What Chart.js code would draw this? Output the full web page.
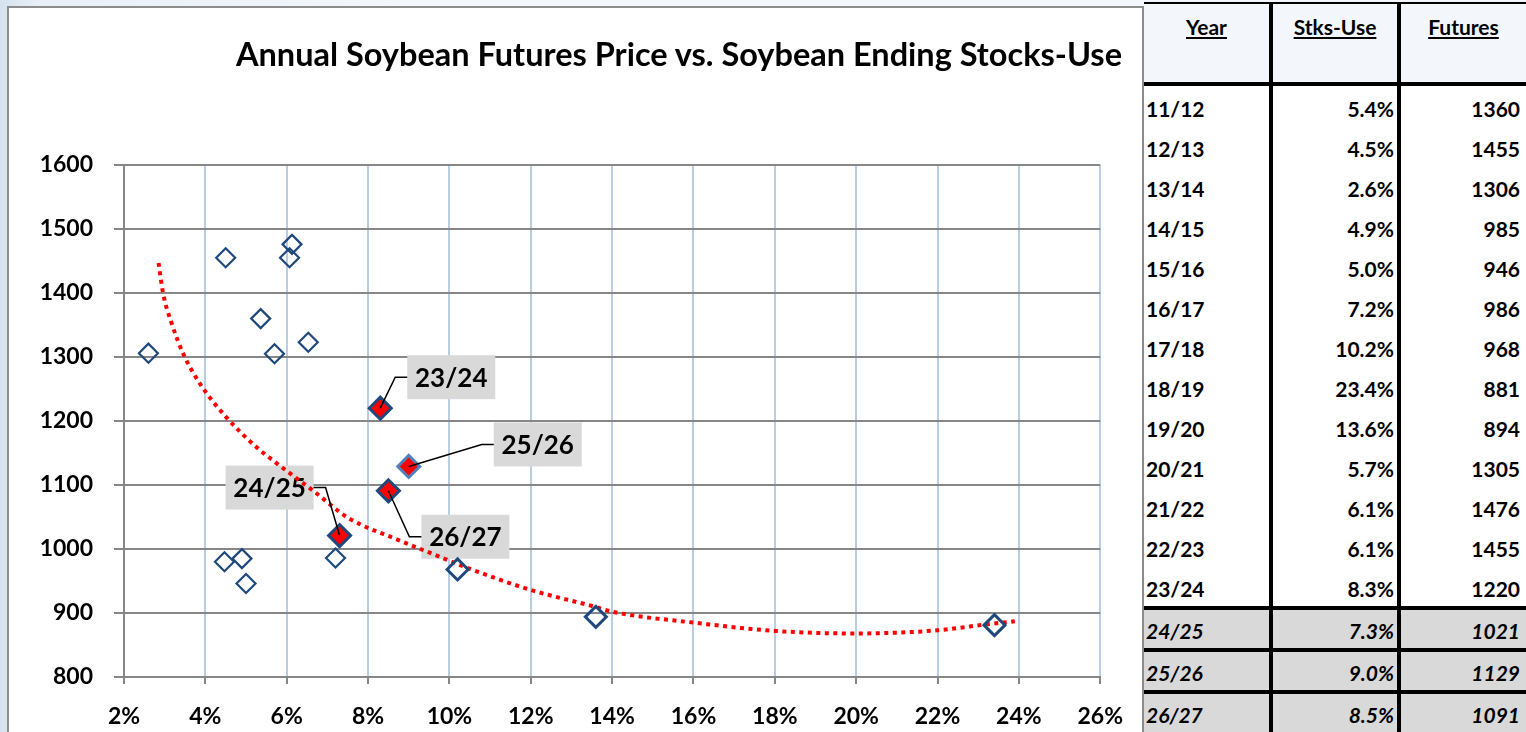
<!DOCTYPE html>
<html>
<head>
<meta charset="utf-8">
<script src="https://cdn.jsdelivr.net/npm/chart.js@4.4.1/dist/chart.umd.min.js"></script>
<style>
  html, body { margin: 0; padding: 0; }
  body {
    width: 1526px; height: 732px; overflow: hidden; position: relative;
    background: linear-gradient(to right, #d6e2ef 0px, #e8eff7 40px, #f3f7fb 400px);
    font-family: Lato, "Open Sans", sans-serif;
  }
  #frame {
    position: absolute; left: 7px; top: 6px; width: 1137px; height: 740px;
    box-sizing: border-box; border: 2px solid #8c8c8c; background: #fff;
  }
  #frame canvas { display: block; }
  #title {
    position: absolute; top: 34px; right: 404px; white-space: nowrap;
    font: bold 32.5px Lato, sans-serif; line-height: 40px; color: #000;
  }
  #tbl {
    position: absolute; left: 1144px; top: 2px; width: 382px; height: 730px;
    display: grid; grid-template-columns: 129px 128px 125px;
    grid-template-rows: 84px repeat(13, 40px) 42px 42px 42px;
    font: bold 21px Lato, sans-serif; color: #000;
  }
  #tbl div { box-sizing: border-box; white-space: nowrap; }
  #tbl .c1, #tbl .c2 { border-right: 4px solid #000; }
  #tbl .c1 { text-align: left; padding-left: 2px; }
  #tbl .c2 { text-align: right; padding-right: 3px; }
  #tbl .c3 { text-align: right; padding-right: 6px; }
  #tbl .hd { border-top: 2px solid #000; border-bottom: 4px solid #000; text-align: center;
             padding: 10px 0 0 0; line-height: 26px; text-decoration: underline; }
  #tbl .row { background: #fff; line-height: 40px; padding-top: 3px; }
  #tbl .proj { background: #d9d9d9; border-top: 4px solid #000; line-height: 38px;
               padding-top: 2px; font-style: italic; }
</style>
</head>
<body>
<div id="frame"><canvas id="chart" width="1133" height="730"></canvas></div>
<div id="title">Annual Soybean Futures Price vs. Soybean Ending Stocks-Use</div>
<div id="tbl"></div>

<script>
const years     = ['11/12','12/13','13/14','14/15','15/16','16/17','17/18','18/19','19/20',
                   '20/21','21/22','22/23','23/24','24/25','25/26','26/27'];
const stocksUse = [5.36, 4.5, 2.6, 4.9, 5.0, 7.2, 10.2, 23.4, 13.6, 5.7, 6.13, 6.07, 8.3, 7.3, 9.0, 8.5];
const futures   = [1360, 1455, 1306, 985, 946, 986, 968, 881, 894, 1305, 1476, 1455, 1220, 1021, 1129, 1091];

// earlier years plotted on the chart but not listed in the table
const olderYears     = ['09/10', '10/11'];
const olderStocksUse = [4.47, 6.53];
const olderFutures   = [980, 1323];

// projected rows (shaded in the table)
const projectedYears = ['24/25', '25/26', '26/27'];
// years drawn as red diamonds with a call-out
const highlightYears = ['23/24', '24/25', '25/26', '26/27'];

// dotted trend line
const trendX = [2.85, 2.96, 3.17, 3.45, 3.86, 4.47, 5.24, 5.65, 6.63, 7.53, 8.75, 9.56,
                10.38, 12.0, 13.56, 14, 16, 18, 20, 22, 23.3, 23.9];
const trendY = [1447, 1400, 1353, 1306, 1259, 1209, 1160, 1139, 1092, 1048, 1014, 993,
                972, 936, 910, 902, 885, 872, 868, 873, 883, 887];

const xTicks = { min: 2, max: 26, step: 2 };
const yTicks = { min: 800, max: 1600, step: 100 };

/* ---- styles ---- */
const navy = '#1f497d';
const boldYears = ['17/18', '18/19', '19/20'];
// call-out box centre, offset in px from its point
const calloutOffsets = {
  '23/24': [71, -31],
  '25/26': [129, -22],
  '24/25': [-70, -48],
  '26/27': [77, 46]
};
const calloutBorder = { '25/26': '#4f81bd' };

/* ---- table ---- */
const tbl = document.getElementById('tbl');
function cell(cls, text) {
  const d = document.createElement('div');
  d.className = cls;
  d.textContent = text;
  tbl.appendChild(d);
}
cell('hd c1', 'Year'); cell('hd c2', 'Stks-Use'); cell('hd c3', 'Futures');
years.forEach((y, i) => {
  const k = projectedYears.includes(y) ? 'proj' : 'row';
  cell(k + ' c1', y);
  cell(k + ' c2', stocksUse[i].toFixed(1) + '%');
  cell(k + ' c3', String(futures[i]));
});

/* ---- chart ---- */
const openPts = [];
const openYears = [];
years.forEach((y, i) => {
  if (!highlightYears.includes(y)) { openPts.push({ x: stocksUse[i], y: futures[i] }); openYears.push(y); }
});
olderYears.forEach((y, i) => {
  openPts.push({ x: olderStocksUse[i], y: olderFutures[i] }); openYears.push(y);
});
const redPts = highlightYears.map(y => {
  const i = years.indexOf(y);
  return { x: stocksUse[i], y: futures[i] };
});
const trendPts = trendX.map((x, i) => ({ x: x, y: trendY[i] }));

const tickFont = { family: 'Lato', weight: 'bold', size: 23 };

const calloutPlugin = {
  id: 'callouts',
  boxes(chart) {
    const xs = chart.scales.x, ys = chart.scales.y;
    return highlightYears.map((y, i) => {
      const px = xs.getPixelForValue(redPts[i].x);
      const py = ys.getPixelForValue(redPts[i].y);
      const off = calloutOffsets[y];
      return { label: y, px, py, bx: px + off[0], by: py + off[1] };
    });
  },
  beforeDatasetsDraw(chart) {
    const ctx = chart.ctx;
    ctx.save();
    ctx.font = 'bold 26px Lato';
    ctx.textAlign = 'center';
    ctx.textBaseline = 'middle';
    this.boxes(chart).forEach(b => {
      ctx.fillStyle = '#d9d9d9';
      ctx.fillRect(b.bx - 44, b.by - 22, 88, 44);
      ctx.fillStyle = '#000';
      ctx.fillText(b.label, b.bx, b.by + 1);
    });
    ctx.restore();
  },
  afterDatasetsDraw(chart) {
    const ctx = chart.ctx;
    ctx.save();
    ctx.strokeStyle = '#000';
    ctx.lineWidth = 1.5;
    this.boxes(chart).forEach(b => {
      const right = b.bx > b.px;
      const edge = right ? b.bx - 44 : b.bx + 44;
      const elbow = right ? edge - 12 : edge + 12;
      ctx.beginPath();
      ctx.moveTo(b.px, b.py);
      ctx.lineTo(elbow, b.by);
      ctx.lineTo(edge, b.by);
      ctx.stroke();
    });
    ctx.restore();
  }
};

new Chart(document.getElementById('chart'), {
  type: 'scatter',
  data: {
    datasets: [
      {
        label: 'History',
        data: openPts,
        pointStyle: 'rectRot',
        pointRadius: ctx => boldYears.includes(openYears[ctx.dataIndex]) ? 10.5 : 9.5,
        pointBorderWidth: ctx => boldYears.includes(openYears[ctx.dataIndex]) ? 3 : 2.2,
        pointBorderColor: navy,
        pointBackgroundColor: 'rgba(255,255,255,0)'
      },
      {
        label: 'Recent / projected',
        data: redPts,
        pointStyle: 'rectRot',
        pointRadius: 11,
        pointBorderWidth: 3,
        pointBorderColor: highlightYears.map(y => calloutBorder[y] || navy),
        pointBackgroundColor: '#ff0000'
      },
      {
        label: 'Trend',
        data: trendPts,
        showLine: true,
        pointRadius: 0,
        borderColor: '#ff0000',
        borderWidth: 4,
        borderDash: [4, 4.5],
        borderCapStyle: 'butt',
        cubicInterpolationMode: 'monotone'
      }
    ]
  },
  options: {
    responsive: false,
    animation: false,
    events: [],
    layout: { padding: { top: 157, right: 36, left: 0, bottom: 0 } },
    plugins: {
      legend: { display: false },
      tooltip: { enabled: false },
      title: { display: false }
    },
    scales: {
      x: {
        type: 'linear',
        min: xTicks.min,
        max: xTicks.max,
        afterFit: s => { s.height = 61; },
        ticks: {
          stepSize: xTicks.step,
          callback: v => v + '%',
          color: '#000',
          font: tickFont,
          padding: 19,
          maxRotation: 0,
          autoSkip: false
        },
        grid: { color: '#b9cde5', lineWidth: 2, tickColor: '#878787', tickLength: 7 },
        border: { color: '#878787', width: 2 }
      },
      y: {
        min: yTicks.min,
        max: yTicks.max,
        afterFit: s => { s.width = 115; },
        ticks: {
          stepSize: yTicks.step,
          callback: v => String(v),
          color: '#000',
          font: tickFont,
          padding: 21
        },
        grid: { color: '#878787', lineWidth: 2, tickLength: 10 },
        border: { color: '#878787', width: 2 }
      }
    }
  },
  plugins: [calloutPlugin]
});
</script>
</body>
</html>
